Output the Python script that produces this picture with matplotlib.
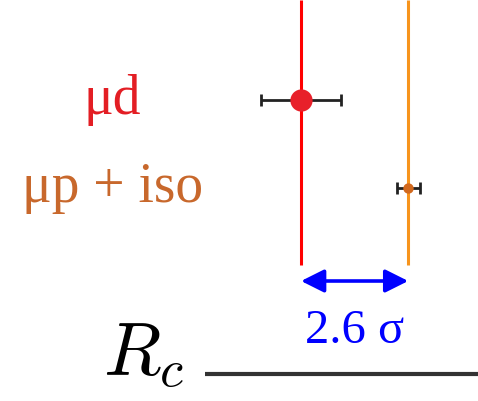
import matplotlib.pyplot as plt
from matplotlib.patches import FancyArrowPatch
from matplotlib.transforms import blended_transform_factory

plt.rcParams['mathtext.fontset'] = 'cm'

# deuteron charge radius (fm) from the two determinations
labels = ['μd', 'μp + iso']
radius = [2.12562, 2.12771]
error = [0.00078, 0.00022]
tension = 2.6

point_colors = ['#e8202a', '#d2691e']
line_colors = ['#ff0000', '#f7941d']
text_colors = ['#e31e24', '#c8682c']
marker_sizes = [16, 7.5]
rows = [100, 188]

fig = plt.figure(figsize=(4.78, 4.01), dpi=100)
ax = fig.add_axes([0, 0, 1, 1])
ax.set_xlim(2.11975, 2.12907)
ax.set_ylim(401, 0)
ax.axis('off')

# reference lines for each central value
ax.vlines(radius, 0, 265, colors=line_colors, lw=2.2, zorder=1)

for r, e, y, c, ms in zip(radius, error, rows, point_colors, marker_sizes):
    ax.errorbar(r, y, xerr=e, fmt='none', ecolor='#222222', elinewidth=2,
                capsize=4.5, capthick=2, zorder=3)
    ax.plot(r, y, 'o', color=c, ms=ms, mec='none', zorder=4)

# row labels on the left
tr = blended_transform_factory(fig.transFigure, ax.transData)
for lab, y, c in zip(labels, rows, text_colors):
    ax.text(0.235, y + 14, lab, transform=tr, ha='center', va='baseline',
            fontsize=40, color=c, family='Liberation Serif')

# discrepancy arrow between the two values
arrow = FancyArrowPatch((radius[0], 281), (radius[1], 281),
                        arrowstyle='<|-|>,head_length=14,head_width=7',
                        mutation_scale=1, shrinkA=0, shrinkB=0,
                        color='#0000ff', lw=2.6, zorder=2)
ax.add_patch(arrow)
ax.text((radius[0] + radius[1]) / 2 - 0.00001, 343, f'{tension} σ',
        ha='center', va='baseline', fontsize=35, color='#0000ff',
        family='Liberation Serif')

# axis label and baseline
ax.text(0.215, 375, r'$R_c$', transform=tr, ha='left', va='baseline',
        fontsize=54, color='black')
ax.plot([0.428, 1.0], [374, 374], transform=tr, color='#333333', lw=3,
        solid_capstyle='butt', clip_on=False)

fig.savefig('out.png', dpi=100)
